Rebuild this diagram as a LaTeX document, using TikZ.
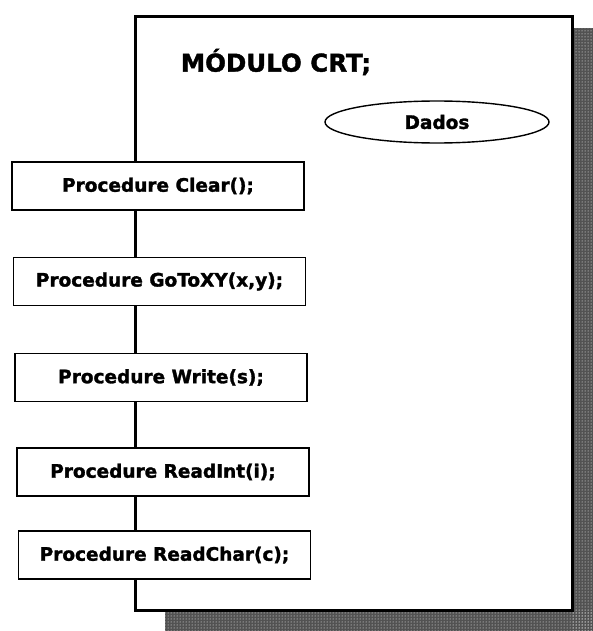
\documentclass[tikz,border=0pt]{standalone}
\usepackage{fontspec}
\setmainfont{DejaVu Sans}
\newfontfamily\heavyfont{DejaVu Sans Bold}[FakeBold=1.6]
\usetikzlibrary{shapes.geometric,patterns}
\tikzset{
  procbox/.style={draw=black, line width=1.4pt, fill=white, minimum width=292pt, minimum height=48pt, inner sep=0pt, font=\fontsize{18.5}{18.5}\selectfont\heavyfont},
  shadowfill/.style={fill=black!68, draw=none},
  shadowdots/.style={pattern=dots, pattern color=white},
}
\begin{document}
\begin{tikzpicture}[x=1pt,y=-1pt]
\useasboundingbox (0,0) rectangle (593,631);
% shadow
\fill[shadowfill] (572,28) rectangle (593,631);
\fill[shadowfill] (165,610) rectangle (593,631);
\fill[shadowdots] (572,28) rectangle (593,631);
\fill[shadowdots] (165,610) rectangle (593,631);
% module box
\node[draw=black, line width=3pt, fill=white, minimum width=437pt, minimum height=593pt, inner sep=0pt] (modulo) at (353.5,313.5) {};
\node[font=\fontsize{24.5}{24.5}\selectfont\heavyfont] (titulo) at (276,62) {MÓDULO CRT;};
\node[draw=black, line width=1.4pt, ellipse, minimum width=224pt, minimum height=42pt, inner sep=0pt, font=\fontsize{18.5}{18.5}\selectfont\heavyfont] (dados) at (437,122) {Dados};
% procedures
\node[procbox] (clear) at (158,186) {Procedure Clear();};
\node[procbox] (gotoxy) at (159.5,281.5) {Procedure GoToXY(x,y);};
\node[procbox] (write) at (161,377.5) {Procedure Write(s);};
\node[procbox] (readint) at (163,472) {Procedure ReadInt(i);};
\node[procbox] (readchar) at (164.5,555) {Procedure ReadChar(c);};
\end{tikzpicture}
\end{document}
